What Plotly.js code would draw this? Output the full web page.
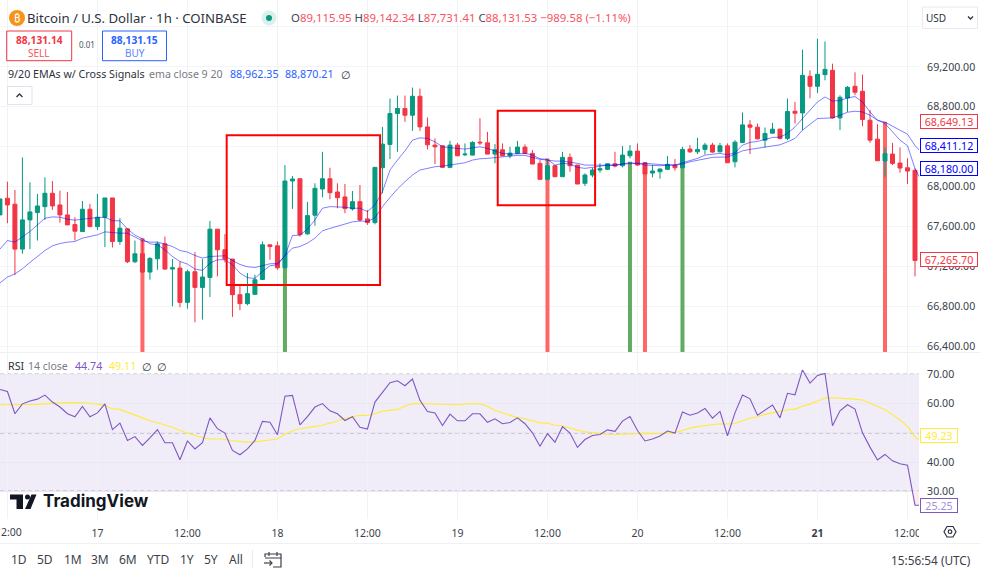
<!DOCTYPE html>
<html><head><meta charset="utf-8">
<script src="https://cdn.plot.ly/plotly-3.0.1.min.js"></script>
<style>html,body{margin:0;padding:0;background:#fff;overflow:hidden}#c{width:986px;height:571px}</style>
</head><body><div id="c"></div>
<script>
const startHour = '2025-03-16T11:00:00Z';
const open_ = [67715,67882,67822,67372,67665,67738,67798,67932,67815,67715,67618,67548,67772,67598,67692,67885,67448,67575,67245,67325,67142,67275,67425,67172,67182,66838,67145,66988,67088,67572,67365,67272,66915,66825,66918,67068,67415,67405,67185,68055,68078,67525,67712,67975,68078,67945,67895,67775,67848,67675,67638,68188,68422,68732,68782,68715,68905,68598,68415,68408,68192,68415,68318,68315,68445,68438,68325,68368,68308,68332,68395,68332,68232,68072,68208,68098,68292,68215,68032,68115,68165,68172,68228,68208,68308,68355,68238,68135,68148,68172,68215,68188,68375,68348,68372,68415,68348,68408,68248,68442,68618,68595,68465,68535,68575,68482,68755,68738,69105,69005,69122,69165,68688,68888,69005,68955,68665,68475,68255,68325,68235,68188,68162];
const high_ = [67875,68048,67965,68292,68042,67925,68092,68055,67958,67945,67692,67855,67825,67925,67885,67885,67682,67578,67458,67465,67292,67448,67498,67272,67248,67165,67342,67272,67655,67572,67522,67272,67005,67132,67115,67448,67415,67448,68215,68105,68078,67845,68032,68348,68188,68032,68025,67955,68015,67765,68195,68598,68882,68912,68912,68992,68982,68692,68482,68408,68458,68438,68432,68455,68685,68548,68425,68432,68398,68458,68422,68365,68265,68265,68215,68348,68332,68215,68132,68188,68232,68232,68348,68405,68415,68432,68238,68215,68182,68305,68275,68398,68415,68488,68438,68438,68438,68432,68465,68742,68665,68632,68592,68638,68582,68882,68848,69372,69165,69482,69455,69232,68915,69008,69145,69122,68765,68625,68392,68438,68392,68282,68182];
const low_ = [67715,67632,67115,67325,67372,67458,67665,67765,67638,67615,67458,67548,67592,67565,67392,67388,67415,67232,67232,67132,67065,67165,67165,66798,66788,66775,66638,66665,66892,67098,67238,66692,66758,66808,66915,67065,67265,67165,67182,67775,67498,67515,67608,67892,67872,67782,67732,67758,67648,67615,67620,67932,68275,68348,68648,68558,68558,68372,68225,68192,68188,68305,68305,68312,68415,68325,68232,68305,68282,68325,68332,68225,68072,68065,68098,68098,68148,68025,68005,68092,68138,68165,68192,68192,68282,68205,68125,68092,68078,68165,68158,68182,68338,68325,68322,68338,68342,68238,68192,68438,68325,68472,68392,68532,68472,68465,68632,68565,68885,68938,69065,68682,68565,68748,68915,68605,68438,68258,68098,68215,68138,68025,67098];
const close_ = [67875,67815,67372,67665,67745,67805,67932,67805,67715,67615,67552,67772,67598,67692,67885,67448,67582,67245,67325,67142,67278,67425,67172,67185,66838,67145,66988,67092,67572,67365,67272,66915,66825,66925,67065,67415,67398,67185,68055,68075,67518,67708,67982,68078,67938,67888,67778,67848,67665,67638,68192,68425,68732,68782,68715,68905,68598,68418,68398,68192,68415,68308,68325,68442,68438,68325,68368,68308,68335,68395,68332,68225,68072,68208,68098,68292,68208,68025,68115,68165,68178,68228,68205,68315,68355,68215,68125,68155,68175,68222,68188,68372,68348,68372,68415,68345,68408,68238,68445,68618,68595,68478,68532,68575,68482,68752,68735,69115,69005,69125,69175,68688,68895,68995,68945,68672,68465,68258,68332,68232,68185,68155,67258];
const ema9 = [67372,67458,67442,67492,67548,67615,67682,67695,67692,67672,67662,67672,67682,67688,67692,67658,67655,67575,67512,67475,67425,67415,67365,67298,67248,67222,67172,67158,67232,67265,67265,67215,67132,67085,67078,67148,67205,67215,67305,67508,67512,67572,67665,67782,67798,67798,67792,67782,67782,67748,67815,67948,68165,68265,68358,68465,68488,68482,68448,68398,68388,68382,68375,68388,68398,68382,68358,68332,68325,68332,68332,68315,68278,68272,68215,68232,68225,68192,68182,68192,68205,68215,68215,68225,68238,68232,68215,68212,68208,68215,68215,68238,68258,68282,68315,68325,68332,68318,68338,68415,68442,68452,68472,68492,68495,68532,68598,68682,68765,68848,68898,68858,68862,68888,68902,68848,68748,68665,68632,68548,68465,68408,68180,68032];
const ema20 = [67032,67092,67122,67175,67238,67298,67358,67405,67428,67442,67448,67482,67498,67515,67545,67538,67532,67532,67492,67455,67442,67442,67422,67398,67358,67342,67308,67282,67298,67305,67305,67258,67218,67195,67188,67205,67225,67228,67308,67382,67398,67432,67482,67555,67580,67600,67620,67645,67655,67648,67685,67798,67890,67975,68048,68115,68165,68182,68198,68205,68215,68232,68238,68265,68278,68282,68292,68298,68305,68312,68312,68292,68272,68265,68255,68255,68245,68232,68215,68215,68212,68215,68212,68225,68232,68232,68232,68225,68218,68215,68215,68225,68248,68265,68282,68292,68295,68295,68325,68358,68372,68385,68398,68412,68418,68448,68482,68565,68625,68682,68685,68688,68715,68745,68755,68748,68715,68665,68645,68608,68565,68525,68411,68332];
const rsi = [64.8,64.1,56.5,59.9,60.9,61.5,62.9,60.5,58.8,56.5,55.5,59.0,55.5,56.8,59.9,51.1,53.3,47.4,48.7,45.7,48.3,51.1,46.6,46.6,40.8,47.2,44.5,46.6,55.1,51.4,49.9,44.0,42.5,44.5,47.4,53.9,53.6,49.3,62.5,62.8,52.7,55.5,58.8,60.0,57.5,56.5,54.2,55.5,51.9,51.3,60.5,63.7,67.1,67.8,66.1,68.4,61.1,57.3,56.8,52.5,56.4,54.1,54.1,56.5,56.5,53.6,54.8,53.1,53.5,55.1,53.1,50.0,45.4,49.7,46.8,52.1,49.9,45.0,47.7,49.1,49.4,51.0,50.5,54.0,55.6,50.8,47.2,47.9,48.9,50.6,49.9,57.1,56.0,56.8,58.3,55.0,57.3,49.0,56.8,62.9,61.6,56.0,57.9,59.5,55.1,63.5,63.0,71.5,67.0,69.6,70.3,52.4,57.5,59.6,58.1,50.0,45.1,40.7,42.6,40.4,39.4,38.9,25.25,25.25];
const rsiMa = [59.6,59.6,59.6,59.6,59.6,59.7,59.9,60.1,60.3,60.3,60.3,60.3,60.0,59.8,59.3,58.2,58.0,57.1,56.2,55.1,54.1,53.3,52.6,51.9,50.8,49.9,49.1,48.4,47.9,47.9,47.8,47.3,47.0,46.8,46.9,47.2,47.5,47.9,49.5,50.7,51.4,51.9,52.2,52.6,53.2,54.0,55.0,55.6,56.0,55.9,56.5,57.4,57.6,58.0,59.1,59.9,60.0,59.9,59.8,59.6,59.6,59.6,59.8,60.0,59.9,59.1,57.6,56.8,56.2,55.2,54.8,54.2,53.4,53.3,52.6,52.4,51.6,50.9,50.3,50.0,49.8,49.5,49.4,49.5,49.7,49.8,49.8,49.7,49.7,49.8,50.0,50.9,51.6,52.1,52.5,52.7,53.1,53.0,53.2,54.1,55.0,55.5,56.3,56.8,57.3,57.9,58.1,59.1,59.8,60.8,61.9,62.0,61.9,61.6,61.5,61.2,60.1,58.8,57.9,56.2,54.4,52.2,48.5,46.8];
const buyTimes = ['2025-03-18 01:00','2025-03-19 23:00','2025-03-20 06:00'];
const buyPrices = [67325,68248,68248];
const sellTimes = ['2025-03-17 06:00','2025-03-19 12:00','2025-03-20 01:00','2025-03-21 09:00'];
const sellPrices = [67482,68282,68242,68649.13];
const priceTickVals = [69600,69200,68800,68400,68000,67600,67200,66800,66400];
const priceTickText = ['','69,200.00','68,800.00','','68,000.00','67,600.00','67,200.00','66,800.00','66,400.00'];
const rsiTickVals = [70,60,50,40,30];
const rsiTickText = ['70.00','60.00','','40.00','30.00'];
const timeTickVals = ['2025-03-16 12:00','2025-03-17 00:00','2025-03-17 12:00','2025-03-18 00:00','2025-03-18 12:00','2025-03-19 00:00','2025-03-19 12:00','2025-03-20 00:00','2025-03-20 12:00','2025-03-21 00:00','2025-03-21 12:00'];
const timeTickText = ['','17','12:00','18','12:00','19','12:00','20','12:00','<b>21</b>','12:00'];
const rangeButtons = ['1D','5D','1M','3M','6M','YTD','1Y','5Y','All'];
const rangeButtonX = [19.3,45.3,72.7,100,128,158,187.3,211.3,236];

const W=986,H=571;
const PRICE_RANGE=[66340,69870.6], RSI_RANGE=[20.53,77.28];
const TIME_RANGE=['2025-03-16 11:00:36','2025-03-21 13:32:00'];
const times=open_.map((_,i)=>new Date(Date.parse(startHour)+i*3600000).toISOString());
const lineTimes=ema9.map((_,i)=>new Date(Date.parse(startHour)+i*3600000).toISOString());

const FONT='"Noto Sans", sans-serif';
const TXT='#2e3240', GREY='#787b86', RED='#f23645', BLUE='#2962ff', PURPLE='#7e57c2', YEL='#ffeb3b', LBL='#3b3f4a';
const px=x=>x/W, py=y=>1-y/H;
function note(text,x,y,o={}){return Object.assign({text,xref:'paper',yref:'paper',x:px(x),y:py(y),showarrow:false,
  xanchor:o.a||'left',yanchor:'middle',font:{family:FONT,size:o.s||12,color:o.c||TXT},borderpad:0},o.extra||{});}
function rect(x0,y0,x1,y1,o={}){return {type:'rect',xref:'paper',yref:'paper',x0:px(x0),x1:px(x1),y0:py(y0),y1:py(y1),
  line:{color:o.lc||'rgba(0,0,0,0)',width:o.lw===undefined?1:o.lw},fillcolor:o.fc||'rgba(0,0,0,0)',layer:'above'};}
function hline(x0,x1,y,c){return {type:'line',xref:'paper',yref:'paper',x0:px(x0),x1:px(x1),y0:py(y),y1:py(y),line:{color:c,width:1},layer:'above'};}
function poly(pts,o={}){const d='M'+pts.map(p=>px(p[0])+','+py(p[1])).join('L')+(o.close?'Z':'');
  return {type:'path',xref:'paper',yref:'paper',path:d,line:{color:o.lc||'rgba(0,0,0,0)',width:o.lw||1},fillcolor:o.fc||'rgba(0,0,0,0)',layer:'above'};}
function circ(cx,cy,r,o={}){return {type:'circle',xref:'paper',yref:'paper',x0:px(cx-r),x1:px(cx+r),y0:py(cy+r),y1:py(cy-r),line:{color:o.lc||'rgba(0,0,0,0)',width:o.lw||1},fillcolor:o.fc||'rgba(0,0,0,0)',layer:'above'};}
function priceTag(text,y,yref,color,w,border){return {text,xref:'paper',yref,x:919.5/W,y,xanchor:'left',yanchor:'middle',showarrow:false,
  width:w,height:13,align:'center',bgcolor:'#fff',bordercolor:border||color,borderwidth:1,borderpad:0,font:{family:FONT,size:10.7,color}};}

const traces=[
 {type:'bar',x:sellTimes,base:sellPrices.map(()=>PRICE_RANGE[0]),y:sellPrices.map(v=>v-PRICE_RANGE[0]),width:sellTimes.map(()=>1920000),
  marker:{color:'rgba(255,82,82,0.88)',line:{width:0}},xaxis:'x',yaxis:'y',hoverinfo:'skip'},
 {type:'bar',x:buyTimes,base:buyPrices.map(()=>PRICE_RANGE[0]),y:buyPrices.map(v=>v-PRICE_RANGE[0]),width:buyTimes.map(()=>1920000),
  marker:{color:'rgba(76,160,76,0.88)',line:{width:0}},xaxis:'x',yaxis:'y',hoverinfo:'skip'},
 {type:'candlestick',x:times,open:open_,high:high_,low:low_,close:close_,xaxis:'x',yaxis:'y',whiskerwidth:0,
  increasing:{line:{color:'#089981',width:1},fillcolor:'#089981'},decreasing:{line:{color:'#f23645',width:1},fillcolor:'#f23645'},hoverinfo:'skip'},
 {type:'scatter',mode:'lines',x:lineTimes,y:ema9,xaxis:'x',yaxis:'y',line:{color:'rgba(0,0,255,0.5)',width:1},hoverinfo:'skip'},
 {type:'scatter',mode:'lines',x:lineTimes,y:ema20,xaxis:'x',yaxis:'y',line:{color:'rgba(0,0,255,0.5)',width:1},hoverinfo:'skip'},
 {type:'scatter',mode:'lines',x:lineTimes,y:rsiMa,xaxis:'x',yaxis:'y2',line:{color:YEL,width:1.1},hoverinfo:'skip'},
 {type:'scatter',mode:'lines',x:lineTimes,y:rsi,xaxis:'x',yaxis:'y2',line:{color:PURPLE,width:1.1},hoverinfo:'skip'}
];

const shapes=[
 {type:'rect',xref:'paper',yref:'y2',x0:0,x1:919/W,y0:30,y1:70,fillcolor:'rgba(126,87,194,0.11)',line:{width:0},layer:'below'},
 {type:'rect',xref:'x',yref:'y2',x0:'2025-03-21 12:50',x1:TIME_RANGE[1],y0:25.25,y1:30,fillcolor:'rgba(239,83,80,0.12)',line:{width:0},layer:'below'},
 {type:'line',xref:'paper',yref:'y2',x0:0,x1:919/W,y0:70,y1:70,line:{color:'#5d5a6b',width:1,dash:'4px,3px'},layer:'below'},
 {type:'line',xref:'paper',yref:'y2',x0:0,x1:919/W,y0:50,y1:50,line:{color:'#7a7688',width:1,dash:'4px,3px'},layer:'below'},
 {type:'line',xref:'paper',yref:'y2',x0:0,x1:919/W,y0:30,y1:30,line:{color:'#5d5a6b',width:1,dash:'4px,3px'},layer:'below'},
 {type:'rect',xref:'x',yref:'y',x0:'2025-03-17 17:14',x1:'2025-03-18 13:41',y0:67012,y1:68513,line:{color:'#ff0000',width:2},fillcolor:'rgba(0,0,0,0)',layer:'above'},
 {type:'rect',xref:'x',yref:'y',x0:'2025-03-19 05:22',x1:'2025-03-19 18:21',y0:67811,y1:68760,line:{color:'#ff0000',width:2},fillcolor:'rgba(0,0,0,0)',layer:'above'},
 hline(0,980,352.5,'#eef0f5'),
 hline(0,980,543.5,'#eef0f5'),
 rect(919,521,946,542,{fc:'#fff'}),
 circ(17,18,8,{fc:'#f7931a'}),
 circ(269,18,7.5,{fc:'rgba(8,153,129,0.15)'}),
 circ(269,18,3,{fc:'#089981'}),
 {...rect(6.7,31,71.7,60.7,{lc:RED})},
 {...rect(102.5,31,166.5,60.7,{lc:BLUE})},
 rect(7.5,86.5,32,104.5,{lc:'#e0e3eb'}),
 poly([[16.5,97],[19.5,94],[22.5,97]],{lc:'#2e3240',lw:1.3}),
 rect(922.5,7,977.5,28.5,{lc:'#e8eaf0'}),
 poly([[968,16.5],[970.5,19],[973,16.5]],{lc:'#2e3240',lw:1.3}),
 poly([[944,531.7],[947,526.5],[953,526.5],[956,531.7],[953,537],[947,537]],{lc:'#2e3240',lw:1.2,close:true}),
 circ(950,531.7,1.8,{lc:'#2e3240',lw:1.2}),
 {type:'line',xref:'paper',yref:'paper',x0:px(252.5),x1:px(252.5),y0:py(550),y1:py(568),line:{color:'#e8eaf0',width:1},layer:'above'},
 poly([[265,557],[265,554],[281,554],[281,567],[273,567]],{lc:'#3b3f4a',lw:1.2}),
 hline(265,281,558,'#3b3f4a'),
 poly([[269,552],[269,556]],{lc:'#3b3f4a',lw:1.2}),
 poly([[277,552],[277,556]],{lc:'#3b3f4a',lw:1.2}),
 poly([[264,563],[272,563]],{lc:'#3b3f4a',lw:1.2}),
 poly([[269.5,560.5],[272,563],[269.5,565.5]],{lc:'#3b3f4a',lw:1.2}),
 poly([[10,494.5],[23,494.5],[23,509],[16.5,509],[16.5,499.5],[10,499.5]],{fc:'#131722',close:true}),
 circ(27.5,497,2.5,{fc:'#131722'}),
 poly([[31.5,494.5],[36.5,494.5],[30.5,509],[25,509]],{fc:'#131722',close:true})
];

const annotations=[
 note('₿',17,18,{a:'center',s:11,c:'#fff'}),
 note('Bitcoin / U.S. Dollar · 1h · COINBASE',25.5,18,{s:13.2}),
 note('<span style="color:#42475a">O</span>89,115.95 <span style="color:#42475a">H</span>89,142.34 <span style="color:#42475a">L</span>87,731.41 <span style="color:#42475a">C</span>88,131.53 −989.58 (−1.11%)',290,18,{s:11.4,c:'#f7525f'}),
 note('<b>88,131.14</b>',39,40,{a:'center',s:10.2,c:RED}),
 note('SELL',39,53,{a:'center',s:10,c:'#f7525f'}),
 note('0.01',86.5,44.7,{a:'center',s:8,c:'#50535e'}),
 note('<b>88,131.15</b>',134.5,40,{a:'center',s:10.2,c:BLUE}),
 note('BUY',134.5,53,{a:'center',s:10,c:'#5a85ff'}),
 note('9/20 EMAs w/ Cross Signals',6.5,74,{s:10.7}),
 note('ema close 9 20',148,74,{s:10.6,c:GREY}),
 note('88,962.35',229,74,{s:10.7,c:BLUE}),
 note('88,870.21',284,74,{s:10.7,c:BLUE}),
 note('∅',340,74,{s:11}),
 note('RSI',6.5,366,{s:10.7}),
 note('14 close',26.5,366,{s:10.5,c:GREY}),
 note('44.74',74,366,{s:10.7,c:PURPLE}),
 note('49.11',108,366,{s:10.7,c:YEL}),
 note('∅',141,366,{s:11}),
 note('∅',156,366,{s:11}),
 note('USD',924.5,18,{s:10}),
 note('2:00',0,532,{s:10.5,c:LBL}),
 {...note('<b>TradingView</b>',42,501.5),font:{family:'Inter, sans-serif',size:17,color:'#131722'}},
 note('15:56:54 (UTC)',972,559.5,{a:'right',s:11.8,c:'#3b3f4a'}),
 priceTag('68,649.13',68649.13,'y','#f23645',56),
 priceTag('68,411.12',68411.12,'y','#0000ff',56),
 priceTag('68,180.00',68180,'y','#0000ff',56),
 priceTag('67,265.70',67265.70,'y','#f23645',56),
 priceTag('49.23',49.23,'y2','#ffeb3b',36),
 priceTag('25.25',25.25,'y2','#a58fd6',36,'#7e57c2')
];
rangeButtons.forEach((b,i)=>annotations.push(note(b,rangeButtonX[i],559.5,{a:'center',s:12,c:'#3b3f4a'})));

const layout={
 width:W,height:H,margin:{l:0,r:0,t:0,b:0,pad:0},paper_bgcolor:'#fff',plot_bgcolor:'#fff',showlegend:false,
 barmode:'overlay',boxgap:0.24,dragmode:false,hovermode:false,
 font:{family:FONT,color:LBL,size:10.7},
 xaxis:{type:'date',domain:[0,919/W],range:TIME_RANGE,anchor:'y2',tickmode:'array',tickvals:timeTickVals,ticktext:timeTickText,
  showgrid:true,gridcolor:'#f0f2f6',gridwidth:1,zeroline:false,showline:false,ticks:'outside',ticklen:4,tickcolor:'rgba(0,0,0,0)',
  tickfont:{family:FONT,size:10.5,color:LBL},rangeslider:{visible:false},tickangle:0,fixedrange:true},
 yaxis:{domain:[1-352/H,1],range:PRICE_RANGE,side:'right',anchor:'x',tickmode:'array',tickvals:priceTickVals,ticktext:priceTickText,
  showgrid:true,gridcolor:'#f3f4f8',zeroline:false,showline:false,ticks:'outside',ticklen:5,tickcolor:'rgba(0,0,0,0)',
  tickfont:{family:FONT,size:10.6,color:LBL},fixedrange:true},
 yaxis2:{domain:[1-519/H,1-353/H],range:RSI_RANGE,side:'right',anchor:'x',tickmode:'array',tickvals:rsiTickVals,ticktext:rsiTickText,
  showgrid:true,gridcolor:'#e9e7f1',zeroline:false,showline:false,ticks:'outside',ticklen:5,tickcolor:'rgba(0,0,0,0)',
  tickfont:{family:FONT,size:10.6,color:LBL},fixedrange:true},
 shapes,annotations
};
Plotly.newPlot('c',traces,layout,{staticPlot:true,displayModeBar:false,responsive:false});
</script></body></html>
